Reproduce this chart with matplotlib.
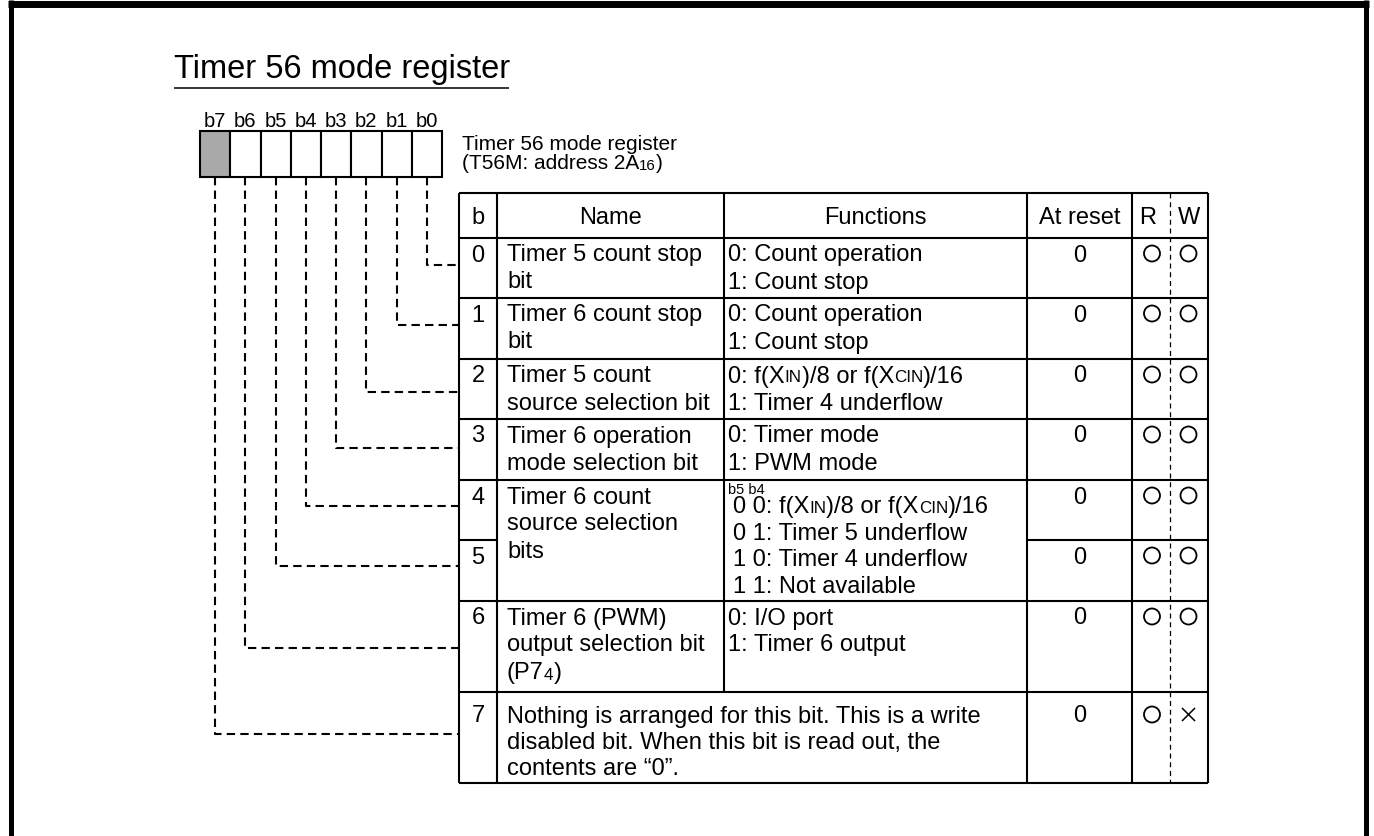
import matplotlib
matplotlib.use("Agg")
import matplotlib.pyplot as plt
from matplotlib.patches import Rectangle, Circle

plt.rcParams["font.family"] = ["Liberation Sans", "DejaVu Sans"]

# ---- content -------------------------------------------------------------
title = "Timer 56 mode register"
reg_name = "Timer 56 mode register"
reg_addr = [("(T56M: address 2A", 1.0, 0), ("16", 0.72, 1), (")", 1.0, 0)]
bit_labels = ["b7", "b6", "b5", "b4", "b3", "b2", "b1", "b0"]
header = ["b", "Name", "Functions", "At reset", "R", "W"]
bit_nums = ["0", "1", "2", "3", "4", "5", "6", "7"]
names = [
    ["Timer 5 count stop", "bit"],
    ["Timer 6 count stop", "bit"],
    ["Timer 5 count", "source selection bit"],
    ["Timer 6 operation", "mode selection bit"],
    ["Timer 6 count", "source selection", "bits"],
    None,
    ["Timer 6 (PWM)", "output selection bit"],
]
p74 = [("(P7", 1.0, 0), ("4", 0.72, 1), (")", 1.0, 0)]
xin_line = [("0: f(X", 1.0, 0), ("IN", 0.72, 0), (")/8 or f(X", 1.0, 0),
            ("CIN", 0.72, 0), (")/16", 1.0, 0)]
xin_line2 = [("0 0: f(X", 1.0, 0), ("IN", 0.72, 0), (")/8 or f(X", 1.0, 0),
             ("CIN", 0.72, 0), (")/16", 1.0, 0)]
functions = [
    ["0: Count operation", "1: Count stop"],
    ["0: Count operation", "1: Count stop"],
    [xin_line, "1: Timer 4 underflow"],
    ["0: Timer mode", "1: PWM mode"],
    [xin_line2, "0 1: Timer 5 underflow", "1 0: Timer 4 underflow", "1 1: Not available"],
    None,
    ["0: I/O port", "1: Timer 6 output"],
]
sel_label = "b5 b4"
bit7_text = ["Nothing is arranged for this bit. This is a write",
             "disabled bit. When this bit is read out, the",
             "contents are \u201c0\u201d."]
at_reset = ["0", "0", "0", "0", "0", "0", "0", "0"]
read_ok = [True, True, True, True, True, True, True, True]
write_ok = [True, True, True, True, True, True, True, False]

# ---- layout (pixels) -----------------------------------------------------
W, H = 1374, 836
FS = 17
row_y = [193, 238, 298, 359, 419, 480, 540, 601, 692, 783]
col_x = [459, 497, 724, 1027, 1132, 1170, 1208]
box_x0, box_y0, box_w, box_h = 200, 131, 30.25, 46
leader_y = [265, 325, 392, 448, 506, 566, 648, 734]
line_h = 27

fig = plt.figure(figsize=(W / 100, H / 100), dpi=100)
ax = fig.add_axes([0, 0, 1, 1])
ax.set_xlim(0, W)
ax.set_ylim(H, 0)
ax.axis("off")
renderer = fig.canvas.get_renderer()


def rich(x, y, parts, size=FS):
    for s, scale, dy in parts:
        t = ax.text(x, y + dy, s, fontsize=size * scale, va="baseline", ha="left")
        x += t.get_window_extent(renderer).width


def put(x, y, item, size=FS, ha="left"):
    if isinstance(item, list):
        rich(x, y, item, size)
    else:
        ax.text(x, y, item, fontsize=size, va="baseline", ha=ha)


def hline(y, x0, x1, **kw):
    ax.plot([x0, x1], [y, y], color="black", solid_capstyle="butt", **kw)


def vline(x, y0, y1, **kw):
    ax.plot([x, x], [y0, y1], color="black", solid_capstyle="butt", **kw)


# outer frame
vline(10.5, 0, H, lw=3.6)
vline(1366, 0, H, lw=3.6)
hline(3.5, 8, 1368.5, lw=5)

# title
ax.text(174, 78, title, fontsize=23.5, va="baseline", ha="left")
hline(88, 174, 509, lw=1.1)

# bit boxes
for i, lab in enumerate(bit_labels):
    x = box_x0 + i * box_w
    ax.add_patch(Rectangle((x, box_y0), box_w, box_h, facecolor="#a9a9a9" if i == 0 else "white",
                           edgecolor="black", lw=1.5))
    ax.text(x + box_w / 2, 127, lab, fontsize=14.5, va="baseline", ha="center")

# register name / address
ax.text(462, 150.5, reg_name, fontsize=15, va="baseline", ha="left")
rich(462, 169, reg_addr, size=15)

# leaders (bit 0 is rightmost box)
for b in range(8):
    cx = box_x0 + (7 - b) * box_w + box_w / 2
    y = leader_y[b]
    ax.plot([cx, cx, col_x[0]], [box_y0 + box_h, y, y], color="black", lw=1.5,
            ls=(0, (4, 2.5)), dash_capstyle="butt")

# table grid
top, bot = row_y[0], row_y[-1]
for x in [col_x[0], col_x[1], col_x[3], col_x[4], col_x[6]]:
    vline(x, top, bot, lw=1.5)
vline(col_x[2], top, row_y[8], lw=1.5)
ax.plot([col_x[5], col_x[5]], [top, bot], color="black", lw=0.9, ls=(0, (4, 3)))
for i, y in enumerate(row_y):
    if i == 6:  # between bit 4 and bit 5: name/functions merged
        hline(y, col_x[0], col_x[1], lw=1.5)
        hline(y, col_x[3], col_x[6], lw=1.5)
    else:
        hline(y, col_x[0], col_x[6], lw=1.5)

# header
hx = [(col_x[0] + col_x[1]) / 2, (col_x[1] + col_x[2]) / 2, (col_x[2] + col_x[3]) / 2,
      (col_x[3] + col_x[4]) / 2, 1148, 1189]
for x, h in zip(hx, header):
    ax.text(x, 224.5, h, fontsize=FS, va="baseline", ha="center")

# rows
for b in range(8):
    rt = row_y[b + 1]
    base = rt + (30.5 if b == 7 else 23.5)
    ax.text(hx[0], base, bit_nums[b], fontsize=FS, va="baseline", ha="center")
    ax.text(hx[3], base, at_reset[b], fontsize=FS, va="baseline", ha="center")
    cy = base - 8
    ax.add_patch(Circle((1152, cy), 8, fill=False, lw=1.3, ec="black"))
    if write_ok[b]:
        ax.add_patch(Circle((1188.5, cy), 8, fill=False, lw=1.3, ec="black"))
    else:
        d = 6
        ax.plot([1188.5 - d, 1188.5 + d], [cy - d, cy + d], color="black", lw=1.1)
        ax.plot([1188.5 - d, 1188.5 + d], [cy + d, cy - d], color="black", lw=1.1)
    if b < 7 and names[b] is not None:
        for k, ln in enumerate(names[b]):
            put(507, base + k * line_h, ln)
        if b == 6:
            put(507, base + 2 * line_h, p74)
        if b == 4:
            ax.text(728, 494, sel_label, fontsize=10.5, va="baseline", ha="left")
            for k, ln in enumerate(functions[b]):
                put(733, 513 + k * 26.7, ln)
        else:
            for k, ln in enumerate(functions[b]):
                put(728, base + k * line_h, ln)
    elif b == 7:
        for k, ln in enumerate(bit7_text):
            put(507, base + k * 26.3, ln)

fig.savefig("out.png", dpi=100)
